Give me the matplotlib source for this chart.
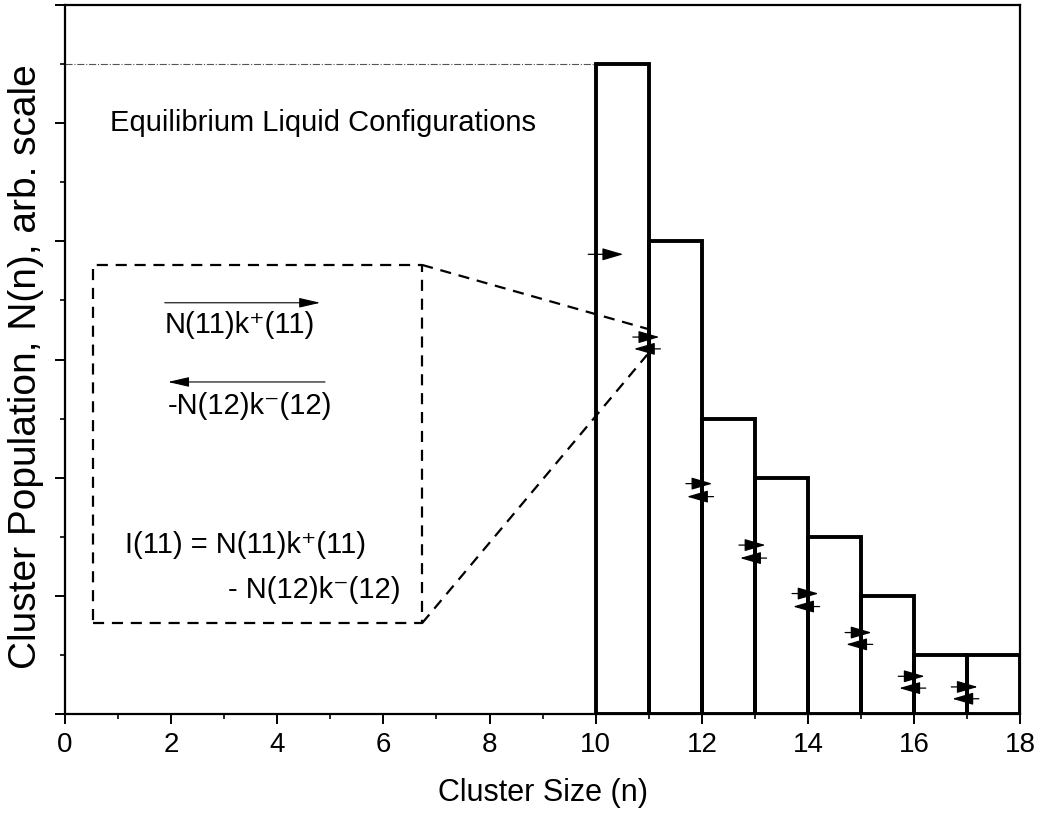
import numpy as np
import matplotlib
matplotlib.use("Agg")
import matplotlib.pyplot as plt
from matplotlib.ticker import MultipleLocator, NullFormatter

plt.rcParams['font.family'] = ['Liberation Sans', 'DejaVu Sans']

# histogram of cluster populations
cluster_n = [10, 11, 12, 13, 14, 15, 16, 17]
population = [5.5, 4.0, 2.5, 2.0, 1.5, 1.0, 0.5, 0.5]

# flux arrows at each boundary (forward above, backward below)
boundary = [11, 12, 13, 14, 15, 16, 17]
fwd_y = [3.19, 1.95, 1.43, 1.02, 0.69, 0.32, 0.23]
bwd_y = [3.09, 1.84, 1.32, 0.91, 0.59, 0.22, 0.13]
lone_arrow = (9.86, 10.52, 3.89)   # tail x, tip x, y

# zoom box
box_x = [0.53, 6.73]
box_y = [0.77, 3.80]
zoom_target = [(10.97, 3.26), (10.97, 3.04)]

fig = plt.figure(figsize=(10.4, 8.18), dpi=100)
ax = fig.add_axes([0.0625, 0.127, 0.9185, 0.867])

ax.bar(cluster_n, population, width=1, align='edge', fill=False,
       edgecolor='black', linewidth=2.8, zorder=3)

ax.plot([0, cluster_n[0]], [population[0], population[0]], color='#555555',
        lw=0.8, ls='-.', zorder=2)


def arrow(x0, x1, y, lw=0.9, hl=1.3, hw=0.38, ms=10):
    ax.annotate('', xy=(x1, y), xytext=(x0, y),
                arrowprops=dict(arrowstyle=f'-|>,head_length={hl},head_width={hw}',
                                color='black', lw=lw, shrinkA=0, shrinkB=0,
                                mutation_scale=ms), zorder=4)


for b, yf, yb in zip(boundary, fwd_y, bwd_y):
    arrow(b - 0.3, b + 0.2, yf)
    arrow(b + 0.22, b - 0.28, yb)
arrow(lone_arrow[0], lone_arrow[1], lone_arrow[2])

# dashed inset box and connectors
dash = (0, (5, 3.5))
ax.plot([box_x[0], box_x[1], box_x[1], box_x[0], box_x[0]],
        [box_y[0], box_y[0], box_y[1], box_y[1], box_y[0]],
        color='black', lw=1.6, ls=dash, zorder=2)
ax.plot([box_x[1], zoom_target[0][0]], [box_y[1], zoom_target[0][1]],
        color='black', lw=1.6, ls=dash, zorder=2)
ax.plot([box_x[1], zoom_target[1][0]], [box_y[0], zoom_target[1][1]],
        color='black', lw=1.6, ls=dash, zorder=2)

fs_box = 21
ax.text(1.88, 3.29, 'N(11)k⁺(11)', fontsize=fs_box, va='center', ha='left')
arrow(1.88, 4.81, 3.48, lw=0.8, hl=1.3, hw=0.3)
ax.text(1.94, 2.61, '-N(12)k⁻(12)', fontsize=fs_box, va='center', ha='left')
arrow(4.90, 1.94, 2.81, lw=0.8, hl=1.3, hw=0.3)
ax.text(1.13, 1.43, 'I(11) = N(11)k⁺(11)', fontsize=fs_box, va='center', ha='left')
ax.text(3.07, 1.05, '- N(12)k⁻(12)', fontsize=fs_box, va='center', ha='left')

ax.text(0.85, 5.0, 'Equilibrium Liquid Configurations', fontsize=21,
        va='center', ha='left')

ax.set_xlim(0, 18)
ax.set_ylim(0, 6)
ax.xaxis.set_major_locator(MultipleLocator(2))
ax.xaxis.set_minor_locator(MultipleLocator(1))
ax.yaxis.set_major_locator(MultipleLocator(1))
ax.yaxis.set_minor_locator(MultipleLocator(0.5))
ax.yaxis.set_major_formatter(NullFormatter())
ax.tick_params(which='major', direction='out', length=7, width=1.4,
               labelsize=20, pad=6)
ax.tick_params(which='minor', direction='out', length=3.5, width=1.2)
for s in ax.spines.values():
    s.set_linewidth(1.6)

ax.set_xlabel('Cluster Size (n)', fontsize=22, labelpad=14)
ax.set_ylabel('Cluster Population, N(n), arb. scale', fontsize=28, va='center')
ax.yaxis.set_label_coords(-0.041, 0.49)

fig.savefig('out.png', dpi=100)
